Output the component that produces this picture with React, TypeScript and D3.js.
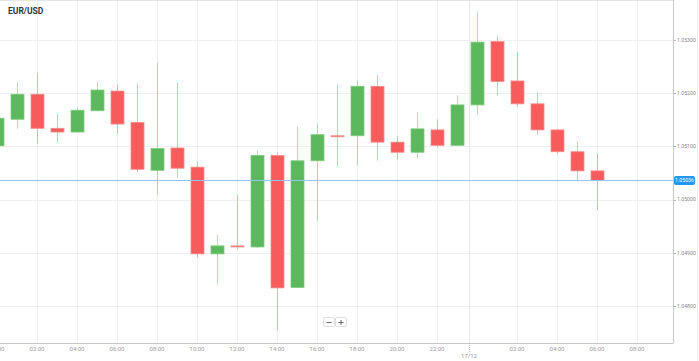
import React from "react";
import * as d3 from "d3";

const hours = [0,1,2,3,4,5,6,7,8,9,10,11,12,13,14,15,16,17,18,19,20,21,22,23,24,25,26,27,28,29,30];
const opens = [1.05101,1.05151,1.05198,1.05134,1.05127,1.05167,1.05204,1.05145,1.05055,1.05097,1.05061,1.04898,1.04913,1.04911,1.05083,1.04835,1.05073,1.05120,1.05120,1.05213,1.05108,1.05089,1.05131,1.05102,1.05178,1.05297,1.05223,1.05180,1.05131,1.05090,1.05054];
const highs = [1.05155,1.05221,1.05239,1.05161,1.05173,1.05222,1.05216,1.05218,1.05257,1.05220,1.05072,1.04934,1.05009,1.05092,1.05089,1.05137,1.05142,1.05216,1.05224,1.05234,1.05120,1.05164,1.05151,1.05196,1.05353,1.05308,1.05277,1.05202,1.05133,1.05110,1.05086];
const lows = [1.05098,1.05133,1.05105,1.05107,1.05127,1.05166,1.05124,1.05052,1.05009,1.05042,1.04891,1.04841,1.04907,1.04909,1.04754,1.04835,1.04960,1.05062,1.05064,1.05073,1.05075,1.05077,1.05098,1.05102,1.05159,1.05196,1.05175,1.05122,1.05087,1.05034,1.04981];
const closes = [1.05153,1.05198,1.05134,1.05127,1.05168,1.05206,1.05142,1.05057,1.05096,1.05059,1.04898,1.04913,1.04911,1.05083,1.04834,1.05073,1.05122,1.05119,1.05213,1.05108,1.05089,1.05133,1.05102,1.05178,1.05296,1.05222,1.05180,1.05131,1.05090,1.05054,1.05036];

const yTicks = [1.048, 1.049, 1.05, 1.051, 1.052, 1.053];
const xTickHours = [0, 2, 4, 6, 8, 10, 12, 14, 16, 18, 20, 22, 26, 28, 30, 32];
const xTickLabels = ["00:00","02:00","04:00","06:00","08:00","10:00","12:00","14:00","16:00","18:00","20:00","22:00","02:00","04:00","06:00","08:00"];
const dateTickHour = 23.6;
const dateTickLabel = "17/12";
const title = "EUR/USD";
const currentPrice = 1.05036;

const W = 699, H = 361;
const plotRight = 673, plotBottom = 343;
const GREEN = "#5cb85c", RED = "#f75c5c";
const GREEN_LIGHT = "#7ccb7c", RED_LIGHT = "#fb8a8a";

export default function App() {
  const x = d3.scaleLinear().domain([0, 34]).range([-3, 677]);
  const y = d3.scaleLinear().domain([1.048, 1.053]).range([306, 40]);
  const font = "Roboto, 'Noto Sans', sans-serif";
  const bw = 13;
  const fmt = d3.format(".5f");

  return (
    <svg width={W} height={H} style={{ position: "fixed", left: 0, top: 0, background: "#fff" }} fontFamily={font}>
      <defs>
        <clipPath id="plot">
          <rect x={0} y={0} width={plotRight} height={plotBottom} />
        </clipPath>
      </defs>
      <rect x={0} y={0} width={W} height={H} fill="#fff" />
      {/* grid */}
      <g clipPath="url(#plot)">
        {yTicks.map((t) => (
          <line key={"gy" + t} x1={0} x2={plotRight} y1={Math.round(y(t)) + 0.5} y2={Math.round(y(t)) + 0.5} stroke="#f0f0f0" />
        ))}
        {xTickHours.map((h) => (
          <line key={"gx" + h} x1={Math.round(x(h)) + 0.5} x2={Math.round(x(h)) + 0.5} y1={0} y2={plotBottom} stroke="#f0f0f0" />
        ))}
        <line x1={Math.round(x(dateTickHour)) + 0.5} x2={Math.round(x(dateTickHour)) + 0.5} y1={0} y2={plotBottom} stroke="#e8e8e8" />
        <line x1={0} x2={plotRight} y1={0.5} y2={0.5} stroke="#e6e6e6" />
      </g>
      {/* candles */}
      <g clipPath="url(#plot)">
        {hours.map((h, i) => {
          const up = closes[i] >= opens[i];
          const cx = Math.round(x(h)) + 0.5;
          const top = y(Math.max(opens[i], closes[i]));
          const bot = y(Math.min(opens[i], closes[i]));
          return (
            <g key={"c" + h}>
              <line x1={cx} x2={cx} y1={y(highs[i])} y2={y(lows[i])} stroke={up ? GREEN : RED} strokeOpacity={0.45} strokeWidth={1} />
              <rect x={cx - bw / 2} y={top} width={bw} height={Math.max(1, bot - top)} fill={up ? GREEN : RED} stroke={up ? GREEN_LIGHT : RED_LIGHT} strokeWidth={0.8} />
            </g>
          );
        })}
      </g>
      {/* current price line */}
      <line x1={0} x2={plotRight} y1={Math.round(y(currentPrice)) + 0.5} y2={Math.round(y(currentPrice)) + 0.5} stroke="#90c6f5" strokeWidth={1} />
      {/* axes */}
      <line x1={0} x2={plotRight + 0.5} y1={plotBottom + 0.5} y2={plotBottom + 0.5} stroke="#c8c8c8" />
      <line x1={plotRight + 0.5} x2={plotRight + 0.5} y1={0} y2={plotBottom} stroke="#c8c8c8" />
      <line x1={W - 1.5} x2={W - 1.5} y1={0} y2={H} stroke="#eeeeee" />
      {yTicks.map((t) => (
        <g key={"yt" + t}>
          <line x1={plotRight} x2={plotRight + 3} y1={Math.round(y(t)) + 0.5} y2={Math.round(y(t)) + 0.5} stroke="#bbb" />
          <text x={plotRight + 4} y={y(t)} dy="0.35em" fontSize={5.2} fill="#888">{fmt(t)}</text>
        </g>
      ))}
      <rect x={plotRight + 1} y={Math.round(y(currentPrice)) - 4} width={21} height={9} rx={2} fill="#2196f3" />
      <text x={plotRight + 11.5} y={Math.round(y(currentPrice)) + 0.5} dy="0.35em" fontSize={5.2} fill="#fff" textAnchor="middle">{fmt(currentPrice)}</text>
      {xTickHours.map((h, i) => (
        <text key={"xt" + h} x={x(h)} y={351} fontSize={6} fill="#999" textAnchor="middle">{xTickLabels[i]}</text>
      ))}
      <line x1={Math.round(x(dateTickHour)) + 0.5} x2={Math.round(x(dateTickHour)) + 0.5} y1={plotBottom} y2={352} stroke="#bbb" strokeDasharray="1,1" />
      <text x={x(dateTickHour)} y={358} fontSize={6} fill="#999" textAnchor="middle">{dateTickLabel}</text>
      {/* title */}
      <text x={8} y={14} fontSize={8.5} fontWeight="bold" fill="#333" fontFamily="'Roboto', 'Liberation Sans', sans-serif">{title}</text>
      {/* zoom buttons */}
      <g>
        <rect x={323.5} y={317.5} width={11} height={9} rx={1.5} fill="#fff" stroke="#e0e0e0" />
        <rect x={335.5} y={317.5} width={11} height={9} rx={1.5} fill="#fff" stroke="#e0e0e0" />
        <line x1={326.5} x2={331.5} y1={322.5} y2={322.5} stroke="#666" strokeWidth={1} />
        <line x1={338.5} x2={343.5} y1={322.5} y2={322.5} stroke="#666" strokeWidth={1} />
        <line x1={341} x2={341} y1={320} y2={325} stroke="#666" strokeWidth={1} />
      </g>
    </svg>
  );
}
